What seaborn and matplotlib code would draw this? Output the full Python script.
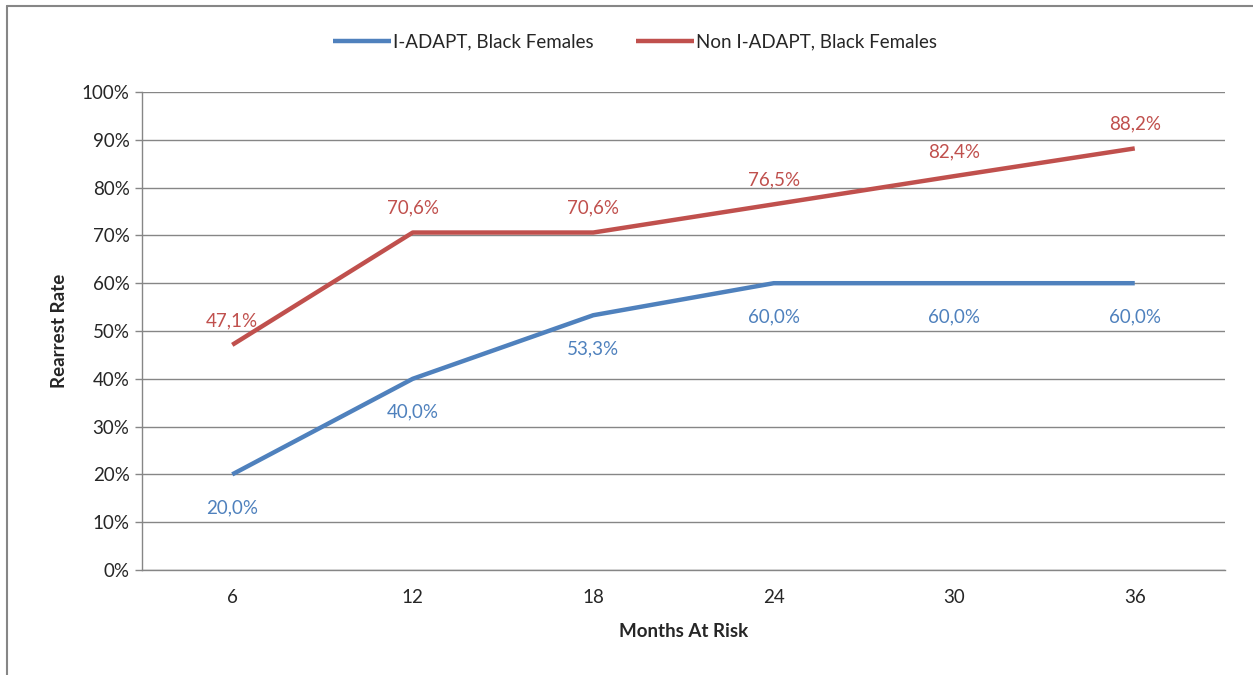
import matplotlib.pyplot as plt
import matplotlib.ticker as mticker
import pandas as pd
import seaborn as sns

months = ["6", "12", "18", "24", "30", "36"]
iadapt = [20.0, 40.0, 53.3, 60.0, 60.0, 60.0]
non_iadapt = [47.1, 70.6, 70.6, 76.5, 82.4, 88.2]
series_names = ["I-ADAPT, Black Females", "Non I-ADAPT, Black Females"]
colors = ["#4F81BD", "#C0504D"]

sns.set_theme(style="white")
plt.rcParams["font.family"] = ["Lato", "DejaVu Sans"]

df = pd.DataFrame({
    "pos": list(range(len(months))) * 2,
    "rate": iadapt + non_iadapt,
    "series": [series_names[0]] * len(months) + [series_names[1]] * len(months),
})

fig = plt.figure(figsize=(12.53, 6.75), dpi=100)
ax = fig.add_axes([142 / 1253, 1 - 570 / 675, (1225 - 142) / 1253, (570 - 92) / 675])

sns.lineplot(data=df, x="pos", y="rate", hue="series", palette=colors,
             linewidth=3.2, ax=ax, legend=True)
for line in ax.lines:
    line.set_solid_capstyle("butt")

# data labels
for i, v in enumerate(iadapt):
    ax.annotate(f"{v:.1f}".replace(".", ",") + "%", (i, v), xytext=(0, -24),
                textcoords="offset points", ha="center", va="center",
                color=colors[0], fontsize=13.5)
for i, v in enumerate(non_iadapt):
    ax.annotate(f"{v:.1f}".replace(".", ",") + "%", (i, v), xytext=(0, 17.5),
                textcoords="offset points", ha="center", va="center",
                color=colors[1], fontsize=13.5)

ax.set_xlim(-0.5, len(months) - 0.5)
ax.set_ylim(0, 100)
ax.set_yticks(range(0, 101, 10))
ax.yaxis.set_major_formatter(mticker.FuncFormatter(lambda v, p: f"{int(v)}%"))
ax.set_xticks(range(len(months)))
ax.set_xticklabels(months)
ax.set_xticks([i - 0.5 for i in range(len(months) + 1)], minor=True)
ax.tick_params(axis="x", which="major", length=0, labelsize=13.5, pad=14)
ax.tick_params(axis="x", which="minor", length=5, color="#868686", width=1, direction="out")
ax.tick_params(axis="y", length=5, color="#868686", width=1, labelsize=13.5, pad=4, left=True)
ax.grid(axis="y", color="#868686", linewidth=1)
ax.set_axisbelow(True)
for side in ["top", "right"]:
    ax.spines[side].set_visible(False)
for side in ["left", "bottom"]:
    ax.spines[side].set_color("#868686")
    ax.spines[side].set_linewidth(1)

ax.set_xlabel("Months At Risk", fontsize=13.5, fontweight="bold", labelpad=12)
ax.set_ylabel("Rearrest Rate", fontsize=13.5, fontweight="bold", labelpad=10)

handles, labels = ax.get_legend_handles_labels()
ax.legend(handles, labels, loc="center", bbox_to_anchor=(635 / 1253, 1 - 42 / 675),
          bbox_transform=fig.transFigure, ncol=2, frameon=False, fontsize=13.5,
          handlelength=3.1, handletextpad=0.1, columnspacing=2.3)

# outer border (left and top visible in reference)
fig.add_artist(plt.Line2D([7 / 1253, 7 / 1253], [0, 1 - 6 / 675], color="#868686",
                          linewidth=1.5, transform=fig.transFigure))
fig.add_artist(plt.Line2D([7 / 1253, 1], [1 - 6 / 675, 1 - 6 / 675], color="#868686",
                          linewidth=1.5, transform=fig.transFigure))

fig.savefig("out.png", dpi=100)
